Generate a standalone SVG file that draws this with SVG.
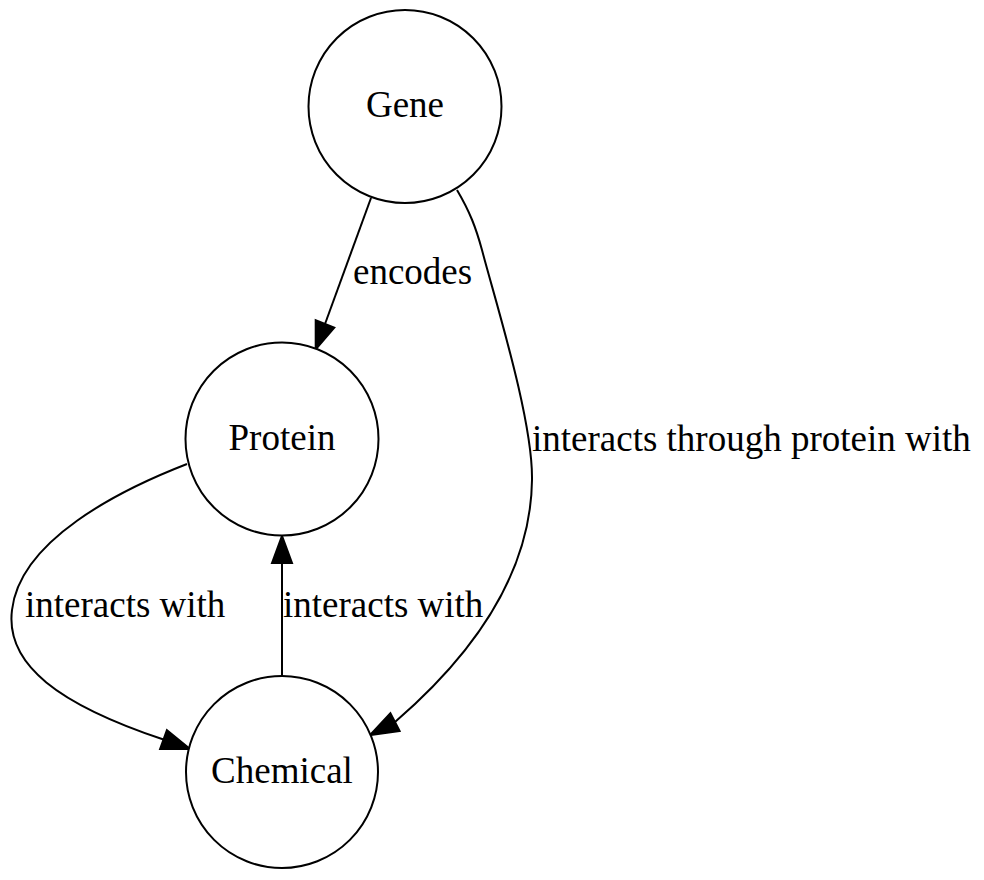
<svg xmlns="http://www.w3.org/2000/svg" width="984" height="880" viewBox="0 0 984 880">
<style>
.node{fill:#fff;stroke:#000;stroke-width:2}
.edge{fill:none;stroke:#000;stroke-width:2}
.head{fill:#000;stroke:#000;stroke-width:2}
text{font-family:"Liberation Serif","Times New Roman",serif;font-size:37px;fill:#000}
.c{text-anchor:middle}
</style>
<rect width="984" height="880" fill="#fff"/>
<g id="connectors">
<g id="e-gene-protein">
<path class="edge" d="M371,198 L325,324"/>
<polygon class="head" points="334.3,327.7 315.7,349.4 315.7,320.3"/>
<text x="353" y="284">encodes</text>
</g>
<g id="e-gene-chemical">
<path class="edge" d="M457,190 C470,212 476,228 482,250 C495,300 533,420 532,480 C531,560 490,640 395,722"/>
<polygon class="head" points="399.6,730.9 370,735 390.4,713.1"/>
<text x="532" y="451">interacts through protein with</text>
</g>
<g id="e-protein-chemical">
<path class="edge" d="M187,464 C120,490 20,540 12,610 C5,665 60,705 163.5,739.5"/>
<polygon class="head" points="160.1,748.9 190,749 166.9,730.1"/>
<text x="25" y="617">interacts with</text>
</g>
<g id="e-chemical-protein">
<path class="edge" d="M282,676 L282,563"/>
<polygon class="head" points="272,563 282,536 292,563"/>
<text x="283" y="617">interacts with</text>
</g>
</g>
<g id="gene">
<circle class="node" cx="405" cy="106.5" r="96.5"/>
<text class="c" x="405" y="117">Gene</text>
</g>
<g id="protein">
<circle class="node" cx="282" cy="439" r="96.5"/>
<text class="c" x="282" y="450">Protein</text>
</g>
<g id="chemical">
<circle class="node" cx="282" cy="772" r="96"/>
<text class="c" x="282" y="783">Chemical</text>
</g>
</svg>
